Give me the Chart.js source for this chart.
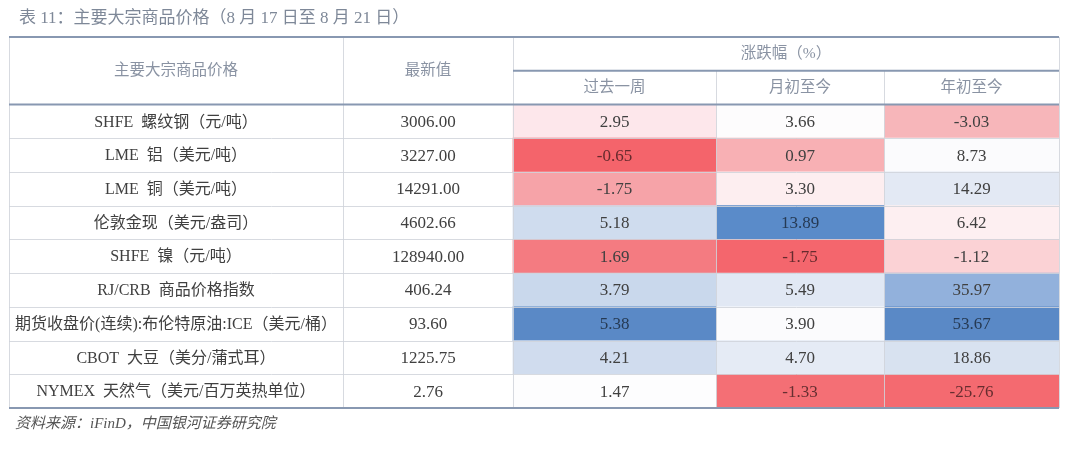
<!DOCTYPE html>
<html>
<head>
<meta charset="utf-8">
<script src="https://cdn.jsdelivr.net/npm/chart.js@4.4.1/dist/chart.umd.min.js"></script>
<style>
  html, body { margin: 0; padding: 0; background: #fff; }
  #wrap { width: 1080px; height: 455px; position: relative; }
</style>
</head>
<body>
<div id="wrap"><canvas id="table11"></canvas></div>
<script>
// 表 11 data
const categories = [
    'SHFE 螺纹钢（元/吨）',
    'LME 铝（美元/吨）',
    'LME 铜（美元/吨）',
    '伦敦金现（美元/盎司）',
    'SHFE 镍（元/吨）',
    'RJ/CRB 商品价格指数',
    '期货收盘价(连续):布伦特原油:ICE（美元/桶）',
    'CBOT 大豆（美分/蒲式耳）',
    'NYMEX 天然气（美元/百万英热单位）'
]
const latest = [3006.00, 3227.00, 14291.00, 4602.66, 128940.00, 406.24, 93.60, 1225.75, 2.76]
const weekChg = [2.95, -0.65, -1.75, 5.18, 1.69, 3.79, 5.38, 4.21, 1.47]
const monthChg = [3.66, 0.97, 3.30, 13.89, -1.75, 5.49, 3.90, 4.70, -1.33]
const ytdChg = [-3.03, 8.73, 14.29, 6.42, -1.12, 35.97, 53.67, 18.86, -25.76]
const chgHeaders = ['过去一周', '月初至今', '年初至今']

// cell shading
const weekColors = ['#fde7eb', '#f4646b', '#f6a3a8', '#cfdcee', '#f47b81', '#c9d8ec', '#5a89c6', '#d0dcee', '#fdfdfe']
const monthColors = ['#fdfcfd', '#f8b0b4', '#fdeef0', '#5a8bc9', '#f4666d', '#e1e8f4', '#fbfbfd', '#e5ebf5', '#f46f75']
const ytdColors = ['#f7b6ba', '#fbfbfd', '#e3e9f4', '#fdeff1', '#fbd2d5', '#92b1dc', '#5a89c6', '#d8e2f0', '#f46a70']

// layout: column edges in table units (1 unit = 1px)
const colEdges = [0, 334, 504, 707, 875, 1050]
const rowKeys = ['head1', 'head2'].concat(categories)

const SERIF = '"Liberation Serif", "DejaVu Serif", "Noto Sans CJK SC"'
const THICK = '#8898b1'
const THIN = 'rgba(208,212,219,0.85)'

const cellSpan = c => rowKeys.map((k, i) => i < 2 ? null : [colEdges[c], colEdges[c + 1]])
const padColors = cols => [null, null].concat(cols)

const ink = hex => {
    const r = parseInt(hex.slice(1, 3), 16), g = parseInt(hex.slice(3, 5), 16), b = parseInt(hex.slice(5, 7), 16)
    const lum = (0.299 * r + 0.587 * g + 0.114 * b) / 255
    if (lum > 0.62) return '#404040'
    const d = v => Math.round(v * 0.42).toString(16).padStart(2, '0')
    return '#' + d(r) + d(g) + d(b)
}

// wider gap between latin code and chinese name, as in the source table
const spaced = s => s.replace(/ (?=[\u4e00-\u9fff])/, '  ')

const tablePlugin = {
    id: 'tableText',
    afterDatasetsDraw(chart) {
        const { ctx, chartArea: a, scales: { x, y } } = chart
        const n = rowKeys.length
        const rowEdge = i => i === 0 ? a.top : i === n ? a.bottom
            : (y.getPixelForValue(i - 1) + y.getPixelForValue(i)) / 2
        const colX = c => x.getPixelForValue(colEdges[c])
        const colMid = c => (colX(c) + colX(c + 1)) / 2
        const line = (x1, y1, x2, y2, color, w) => {
            ctx.beginPath()
            ctx.strokeStyle = color
            ctx.lineWidth = w
            ctx.moveTo(x1, y1)
            ctx.lineTo(x2, y2)
            ctx.stroke()
        }
        ctx.save()

        // thin grid
        for (let i = 3; i < n; i++) {
            const yy = Math.round(rowEdge(i)) + 0.5
            line(colX(0), yy, colX(5), yy, THIN, 1)
        }
        for (let c = 0; c <= 5; c++) {
            const xx = Math.round(colX(c)) + 0.5
            const y0 = (c === 3 || c === 4) ? rowEdge(1) : a.top
            line(xx, y0, xx, a.bottom, THIN, 1)
        }
        // header rules
        line(colX(0), a.top, colX(5), a.top, THICK, 2)
        line(colX(2), rowEdge(1), colX(5), rowEdge(1), THICK, 2)
        line(colX(0), rowEdge(2), colX(5), rowEdge(2), THICK, 2)
        line(colX(0), a.bottom, colX(5), a.bottom, THICK, 2)

        ctx.textAlign = 'center'
        ctx.textBaseline = 'middle'

        // header text
        ctx.fillStyle = '#8a93a3'
        ctx.font = '15.5px ' + SERIF
        const headMid = rowEdge(1)
        ctx.fillText('主要大宗商品价格', colMid(0), headMid)
        ctx.fillText('最新值', colMid(1), headMid)
        ctx.fillText('涨跌幅（%）', (colX(2) + colX(5)) / 2, (rowEdge(0) + rowEdge(1)) / 2)
        chgHeaders.forEach((h, k) => ctx.fillText(h, colMid(k + 2), (rowEdge(1) + rowEdge(2)) / 2))

        // body text
        const chgSets = [[weekChg, weekColors], [monthChg, monthColors], [ytdChg, ytdColors]]
        categories.forEach((name, i) => {
            const yy = y.getPixelForValue(i + 2) + 1
            ctx.fillStyle = '#404040'
            ctx.font = '16px ' + SERIF
            ctx.fillText(spaced(name), colMid(0), yy)
            ctx.font = '17px ' + SERIF
            ctx.fillText(latest[i].toFixed(2), colMid(1), yy)
            chgSets.forEach(([vals, cols], k) => {
                ctx.fillStyle = ink(cols[i])
                ctx.fillText(vals[i].toFixed(2), colMid(k + 2), yy)
            })
        })
        ctx.restore()
    },
    afterDraw(chart) {
        const { ctx } = chart
        ctx.save()
        ctx.textBaseline = 'middle'
        ctx.textAlign = 'left'
        ctx.fillStyle = '#7e8898'
        ctx.font = '17px ' + SERIF
        ctx.fillText('表 11：主要大宗商品价格（8 月 17 日至 8 月 21 日）', 19, 19)
        ctx.fillStyle = '#555555'
        ctx.font = 'italic 15px ' + SERIF
        ctx.fillText('资料来源：iFinD，中国银河证券研究院', 15, 424)
        ctx.restore()
    }
}

new Chart(document.getElementById('table11'), {
    type: 'bar',
    data: {
        labels: rowKeys,
        datasets: [
            { label: chgHeaders[0], data: cellSpan(2), backgroundColor: padColors(weekColors) },
            { label: chgHeaders[1], data: cellSpan(3), backgroundColor: padColors(monthColors) },
            { label: chgHeaders[2], data: cellSpan(4), backgroundColor: padColors(ytdColors) }
        ]
    },
    options: {
        indexAxis: 'y',
        responsive: true,
        maintainAspectRatio: false,
        animation: false,
        layout: { padding: { left: 9, right: 21, top: 37, bottom: 47 } },
        datasets: {
            bar: { grouped: false, barPercentage: 1, categoryPercentage: 1, borderWidth: 0 }
        },
        scales: {
            x: { type: 'linear', min: colEdges[0], max: colEdges[5], display: false },
            y: { type: 'category', display: false }
        },
        plugins: {
            legend: { display: false },
            tooltip: { enabled: false }
        }
    },
    plugins: [tablePlugin]
})
</script>
</body>
</html>
